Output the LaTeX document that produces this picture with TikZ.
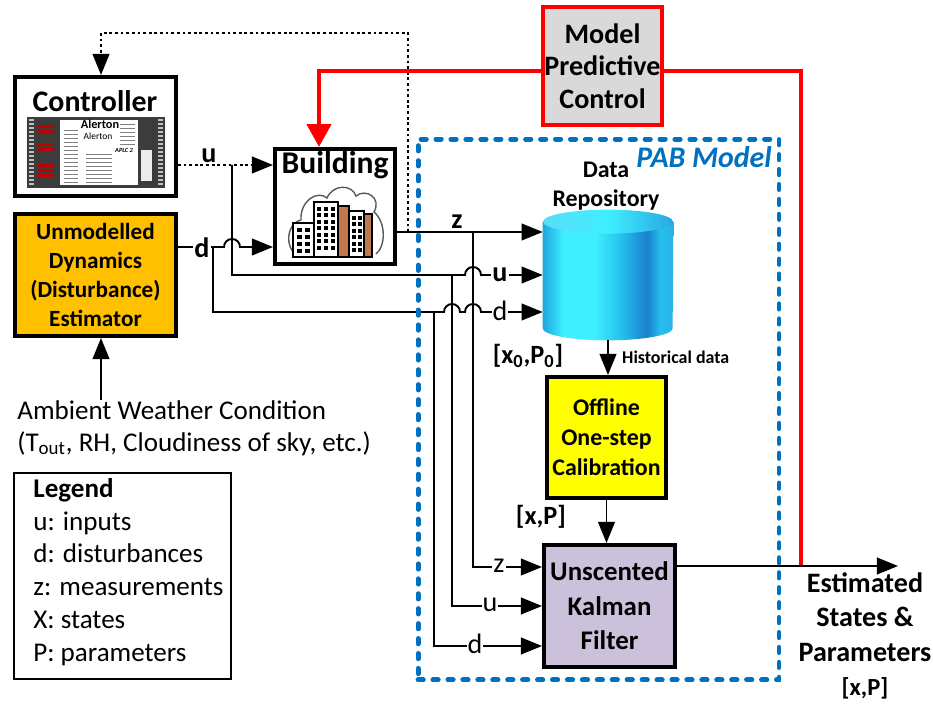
\documentclass[tikz,border=0pt]{standalone}
\usepackage{fontspec}
\setmainfont{Carlito}
\usetikzlibrary{arrows.meta,positioning,calc}

\definecolor{pabblue}{HTML}{0070C0}
\definecolor{distorange}{HTML}{FFC000}
\definecolor{mpcgray}{HTML}{D9D9D9}
\definecolor{ukflilac}{HTML}{CCC1DA}
\definecolor{calibyellow}{HTML}{FFFF00}
\definecolor{brick}{HTML}{C0784F}
\definecolor{boardgray}{HTML}{3C3C3C}
\definecolor{cylA}{HTML}{1FA6DE}
\definecolor{cylB}{HTML}{3EEFFF}
\definecolor{cylC}{HTML}{25C0EE}
\definecolor{cylD}{HTML}{1A7FCC}
\definecolor{cylE}{HTML}{2CB0E6}
\definecolor{cylTop}{HTML}{5ADCF7}
\definecolor{cylTopB}{HTML}{2AA6E0}

\pgfdeclarehorizontalshading{repobody}{100bp}{color(0bp)=(cylA); color(25bp)=(cylA); color(33bp)=(cylB); color(45bp)=(cylB); color(55bp)=(cylC); color(65bp)=(cylD); color(70bp)=(cylC); color(75bp)=(cylE); color(100bp)=(cylE)}

\newcommand{\fsz}[2]{\fontsize{#1}{#2}\selectfont}

\begin{document}
\begin{tikzpicture}[x=0.02cm, y=-0.02cm,
  blk/.style={draw, line width=2.3pt, inner sep=0pt, align=center},
  wire/.style={line width=1.1pt},
  arr/.style={-{Triangle[length=12pt,width=9.5pt]}},
  dots/.style={line width=1.2pt, dash pattern=on 1.6pt off 1.6pt},
  redline/.style={red, line width=2.8pt},
  sig/.style={fill=white, inner sep=0.6pt, font=\fsz{16}{18}},
  bsig/.style={sig, font=\fsz{16}{18}\bfseries},
  hopover/.style={insert path={arc[start angle=180,end angle=0,radius=0.16cm]}}]

\useasboundingbox (0,0) rectangle (933,705);

% blocks
\node[blk, minimum width=3.22cm, minimum height=2.38cm] (ctrl) at (95.5,136.5) {};
\node[font=\fsz{17}{20}\bfseries] (ctrltxt) at (95,101) {Controller};
\node[blk, fill=distorange, minimum width=3.22cm, minimum height=2.44cm, font=\fsz{13.2}{16.6}\bfseries] (dist) at (95.5,275) {Unmodelled\\Dynamics\\(Disturbance)\\Estimator};
\node[blk, minimum width=2.4cm, minimum height=2.3cm] (bldg) at (335,206.5) {};
\node[font=\fsz{18}{20}\bfseries] (bldgtxt) at (335,165) {Building};
\node[blk, draw=red, line width=2.8pt, fill=mpcgray, minimum width=2.38cm, minimum height=2.36cm, font=\fsz{16}{18.4}\bfseries] (mpc) at (602.5,66) {Model\\Predictive\\Control};
\node[minimum width=2.6cm, minimum height=2.6cm, inner sep=0pt] (repo) at (608,275) {};
\node[font=\fsz{13.6}{16.4}\bfseries, align=center] (repotxt) at (606,186) {Data\\Repository};
\node[blk, fill=calibyellow, minimum width=2.38cm, minimum height=2.42cm, font=\fsz{13.6}{17}\bfseries] (calib) at (606.5,437.5) {Offline\\One-step\\Calibration};
\node[blk, fill=ukflilac, minimum width=2.62cm, minimum height=2.44cm, font=\fsz{15.3}{19.6}\bfseries] (ukf) at (609.5,606) {Unscented\\Kalman\\Filter};

% controller board
\fill[boardgray] (27,117) rectangle (165,188);
\fill[white] (60,120) rectangle (138,185);
\foreach \yy in {119,123,...,183} {
  \fill[gray!50] (29,\yy) rectangle (34,\yy+2);
  \fill[gray!50] (158,\yy) rectangle (163,\yy+2);
}
\foreach \yy in {125,130,143,148,164,169,174} \fill[red!75!black] (38,\yy) rectangle (54,\yy+3);
\fill[gray!15] (141,150) rectangle (152,181);
\foreach \yy in {130,134,...,182} \draw[gray, line width=0.3pt] (64,\yy) -- (78,\yy);
\foreach \yy in {154,158,...,182} \draw[gray, line width=0.3pt] (86,\yy) -- (112,\yy);
\foreach \yy in {124,128,...,146} \draw[gray, line width=0.3pt] (120,\yy) -- (135,\yy);
\node[font=\fsz{7}{8}\bfseries, inner sep=0pt] (alerton) at (100,124) {Alerton};
\node[font=\fsz{5.4}{6}, inner sep=0pt] (alerton2) at (98,136) {Alerton};
\node[font=\fsz{3.6}{4}\bfseries\itshape, inner sep=0pt] (aplc) at (124,150) {APLC 2};

% building icon
\draw[gray!70!black, line width=0.8pt] (293,252) .. controls (284,240) and (290,222) .. (301,220) .. controls (300,200) and (318,190) .. (327,198) .. controls (333,184) and (352,184) .. (356,196) .. controls (366,188) and (382,198) .. (374,212) .. controls (386,222) and (386,246) .. (376,254);
\filldraw[fill=white, line width=0.6pt] (293,223) rectangle (314,257);
\foreach \rr in {0,...,3} \foreach \cc in {0,1} \fill (297+\cc*8,228+\rr*7) rectangle ++(5,4);
\filldraw[fill=white, line width=0.6pt] (314,202) rectangle (338,257);
\filldraw[fill=brick, line width=0.6pt] (338,206) rectangle (349,257);
\foreach \rr in {0,...,6} \foreach \cc in {0,1,2} \fill (317+\cc*7,207+\rr*6.5) rectangle ++(4,4);
\filldraw[fill=white, line width=0.6pt] (349,211) rectangle (364,257);
\filldraw[fill=brick, line width=0.6pt] (364,214) rectangle (372,257);
\foreach \rr in {0,...,5} \foreach \cc in {0,1} \fill (352+\cc*6,216+\rr*6.5) rectangle ++(4,4);

% data repository
\shade[shading=repobody] ($(repo.north west)+(0,12)$) -- ($(repo.south west)+(0,-12)$) arc[start angle=180, end angle=360, x radius=1.3cm, y radius=0.24cm] -- ($(repo.north east)+(0,12)$) -- cycle;
\shade[left color=cylTop, right color=cylTopB, middle color=cylB] ($(repo.north)+(0,12)$) ellipse[x radius=1.3cm, y radius=0.24cm];

% signals
\coordinate (uj) at (232,165);
\coordinate (dj) at (213,247);
\coordinate (zj) at (408,232);
\coordinate (zv) at (473,232);
\coordinate (uv) at (452,275);
\coordinate (dv) at (434,312);
\coordinate (fb) at (101,33);
\coordinate (kz) at (0,567);
\coordinate (ku) at (0,606);
\coordinate (kd) at (0,646);
\coordinate (mpcl) at (319,71);
\coordinate (mpcr) at (801,71);
\coordinate (outj) at (801,566);
\coordinate (outend) at (898,566);

\draw[dots,arr] (ctrl.east |- uj) -- (bldg.west |- uj);
\draw[dots,arr] (zj) -- (zj |- fb) -- (fb) -- (fb |- ctrl.north);
\node[bsig, fill=none] (ulab) at (209,156) {u};

\draw[wire,arr] (dist.east |- dj) -- ($(uj |- dj)+(-8,0)$) [hopover] -- (bldg.west |- dj);
\node[bsig] (dlab) at (202,248) {d};
\draw[wire,arr] (bldg.east |- zj) -- (repo.west |- zj);
\node[bsig, fill=none] (zlab) at (457,222) {z};
\draw[wire,arr] (uj) -- (uj |- uv) -- ($(zv |- uv)+(-8,0)$) [hopover] -- (repo.west |- uv);
\node[bsig] (urepo) at (500,275) {u};
\draw[wire,arr] (dj) -- (dj |- dv) -- ($(uv |- dv)+(-8,0)$) [hopover] -- ($(zv |- dv)+(-8,0)$) [hopover] -- (repo.west |- dv);
\node[sig] (drepo) at (500,311) {d};

\draw[wire,arr] (zv) -- (zv |- kz) -- (ukf.west |- kz);
\node[sig] (zukf) at (499,566) {z};
\draw[wire,arr] (uv) -- (uv |- ku) -- (ukf.west |- ku);
\node[sig] (uukf) at (490,605) {u};
\draw[wire,arr] (dv) -- (dv |- kd) -- (ukf.west |- kd);
\node[sig] (dukf) at (475,644) {d};

\draw[wire,arr] (repo.south) -- (repo.south |- calib.north);
\node[font=\fsz{10.2}{12}\bfseries, anchor=west] (hist) at (616,357) {Historical data};
\node[font=\fsz{15}{18}\bfseries] (x0p0) at (528,356) {[x\textsubscript{0},P\textsubscript{0}]};
\draw[wire,arr] (calib.south) -- (calib.south |- ukf.north);
\node[font=\fsz{15}{18}\bfseries] (xp) at (541,517) {[x,P]};

% model predictive control
\draw[redline] (mpc.east |- mpcr) -- (mpcr) -- (outj);
\draw[redline, -{Triangle[length=13pt,width=13.5pt]}] (mpc.west |- mpcl) -- (mpcl) -- (mpcl |- bldg.north);
\draw[wire,arr] (ukf.east |- outj) -- (outend);
\node[font=\fsz{16}{19.6}\bfseries, align=center] (est) at (865,617) {Estimated\\States \&\\Parameters};
\node[font=\fsz{14}{16}\bfseries] (estxp) at (865,688) {[x,P]};

% PAB model frame
\node[draw=pabblue, line width=2.8pt, dash pattern=on 3pt off 5.5pt, line cap=round, minimum width=7.22cm, minimum height=10.82cm, inner sep=0pt] (pab) at (598.5,409.5) {};
\node[font=\fsz{17}{20}\bfseries\itshape, text=pabblue] (pablab) at (704,157) {PAB Model};

% weather and legend
\node[anchor=west, align=left, inner sep=0pt, font=\fsz{15.4}{18.1}] (weather) at (17,428) {Ambient Weather Condition\\(T\textsubscript{out}, RH, Cloudiness of sky, etc.)};
\draw[wire,arr] (weather.north -| fb) -- (dist.south -| fb);
\node[draw, line width=1pt, minimum width=4.34cm, minimum height=4.12cm] (legend) at (122.5,576) {};
\node[anchor=west, align=left, inner sep=0pt, font=\fsz{15.4}{18.7}] (legtxt) at (33,572) {\textbf{Legend}\\u: inputs\\d: disturbances\\z: measurements\\X: states\\P: parameters};

\end{tikzpicture}
\end{document}
